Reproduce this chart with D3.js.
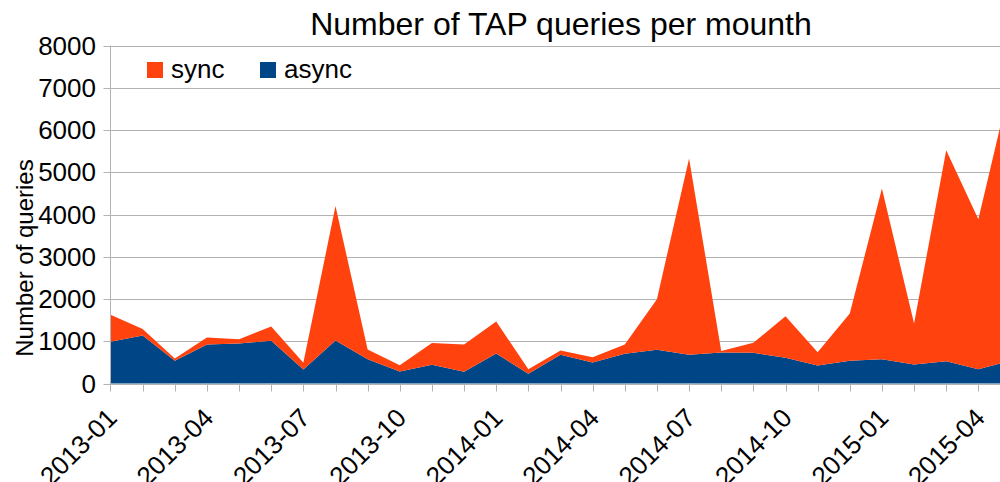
<!DOCTYPE html>
<html>
<head>
<meta charset="utf-8">
<script src="https://cdn.jsdelivr.net/npm/d3@7"></script>
<style>
  body { margin: 0; background: #fff; }
  svg { display: block; font-family: "Liberation Sans", Arial, sans-serif; }
</style>
</head>
<body>
<svg id="chart"></svg>
<script>
// months shown on the x axis
var months = ["2013-01","2013-02","2013-03","2013-04","2013-05","2013-06","2013-07","2013-08","2013-09","2013-10","2013-11","2013-12",
              "2014-01","2014-02","2014-03","2014-04","2014-05","2014-06","2014-07","2014-08","2014-09","2014-10","2014-11","2014-12",
              "2015-01","2015-02","2015-03","2015-04","2015-05"];
var asyncVals = [987,1137,537,923,947,1010,331,1018,576,284,442,276,
                 710,229,679,497,702,797,679,735,726,607,426,537,
                 576,450,529,339,540];
var syncVals = [639,150,55,166,103,340,158,3181,229,150,517,647,
                758,110,102,127,221,1200,4649,35,237,987,316,1120,
                4039,970,4994,3551,6560];
var yTicks = [0,1000,2000,3000,4000,5000,6000,7000,8000];
var seriesNames = ["sync","async"];
var colors = {sync: "#ff420e", async: "#004586"};

var width = 1000, height = 482;
var margin = {top: 45.5, left: 110.5, bottom: 383.5};

var svg = d3.select("#chart").attr("width", width).attr("height", height);

var rows = months.map(function(m, i){ return {month: m, async: asyncVals[i], sync: syncVals[i]}; });

// the last month sits just past the right edge, as in the original
var x = d3.scalePoint().domain(months).range([margin.left, 1010.5]);
var y = d3.scaleLinear().domain([0, 8000]).range([margin.bottom, margin.top]);

// grid
svg.append("g").selectAll("line").data(yTicks).enter().append("line")
    .attr("x1", margin.left - 7).attr("x2", width)
    .attr("y1", function(d){ return Math.round(y(d)) + 0.5; })
    .attr("y2", function(d){ return Math.round(y(d)) + 0.5; })
    .style("stroke", "#b3b3b3").style("stroke-width", 1);

// stacked areas
var stack = d3.stack().keys(["async","sync"]);
var layers = stack(rows);
var area = d3.area()
    .x(function(d){ return x(d.data.month); })
    .y0(function(d){ return y(d[0]); })
    .y1(function(d){ return y(d[1]); });
svg.append("g").selectAll("path").data(layers).enter().append("path")
    .attr("d", area)
    .style("fill", function(d){ return colors[d.key]; });

// y axis line
svg.append("line").attr("x1", margin.left).attr("x2", margin.left)
    .attr("y1", margin.top).attr("y2", margin.bottom + 7)
    .style("stroke", "#b3b3b3");

// x ticks
svg.append("g").selectAll("line").data(months).enter().append("line")
    .attr("x1", function(d){ return Math.round(x(d)) + 0.5; })
    .attr("x2", function(d){ return Math.round(x(d)) + 0.5; })
    .attr("y1", margin.bottom).attr("y2", margin.bottom + 8)
    .style("stroke", "#b3b3b3");

// y tick labels
svg.append("g").selectAll("text").data(yTicks).enter().append("text")
    .attr("x", 96).attr("y", function(d){ return y(d) + 9; })
    .attr("text-anchor", "end")
    .style("font-size", "26px")
    .text(function(d){ return d; });

// x tick labels, every third month
svg.append("g").selectAll("text")
    .data(months.filter(function(d, i){ return i % 3 === 0; }))
    .enter().append("text")
    .attr("transform", function(d){ return "translate(" + (x(d) + 8) + "," + (margin.bottom + 36) + ") rotate(-45)"; })
    .attr("text-anchor", "end")
    .style("font-size", "26px")
    .text(function(d){ return d; });

// title
svg.append("text").attr("x", 561).attr("y", 35)
    .attr("text-anchor", "middle")
    .style("font-size", "32px")
    .text("Number of TAP queries per mounth");

// y axis title
svg.append("text")
    .attr("transform", "translate(33,258) rotate(-90)")
    .attr("text-anchor", "middle")
    .style("font-size", "24px")
    .text("Number of queries");

// legend
var legend = svg.append("g").selectAll("g").data(seriesNames).enter().append("g")
    .attr("transform", function(d, i){ return "translate(" + (147 + i * 113) + ",62)"; });
legend.append("rect").attr("width", 16).attr("height", 16)
    .style("fill", function(d){ return colors[d]; });
legend.append("text").attr("x", 24).attr("y", 16)
    .style("font-size", "26px")
    .text(function(d){ return d; });
</script>
</body>
</html>
